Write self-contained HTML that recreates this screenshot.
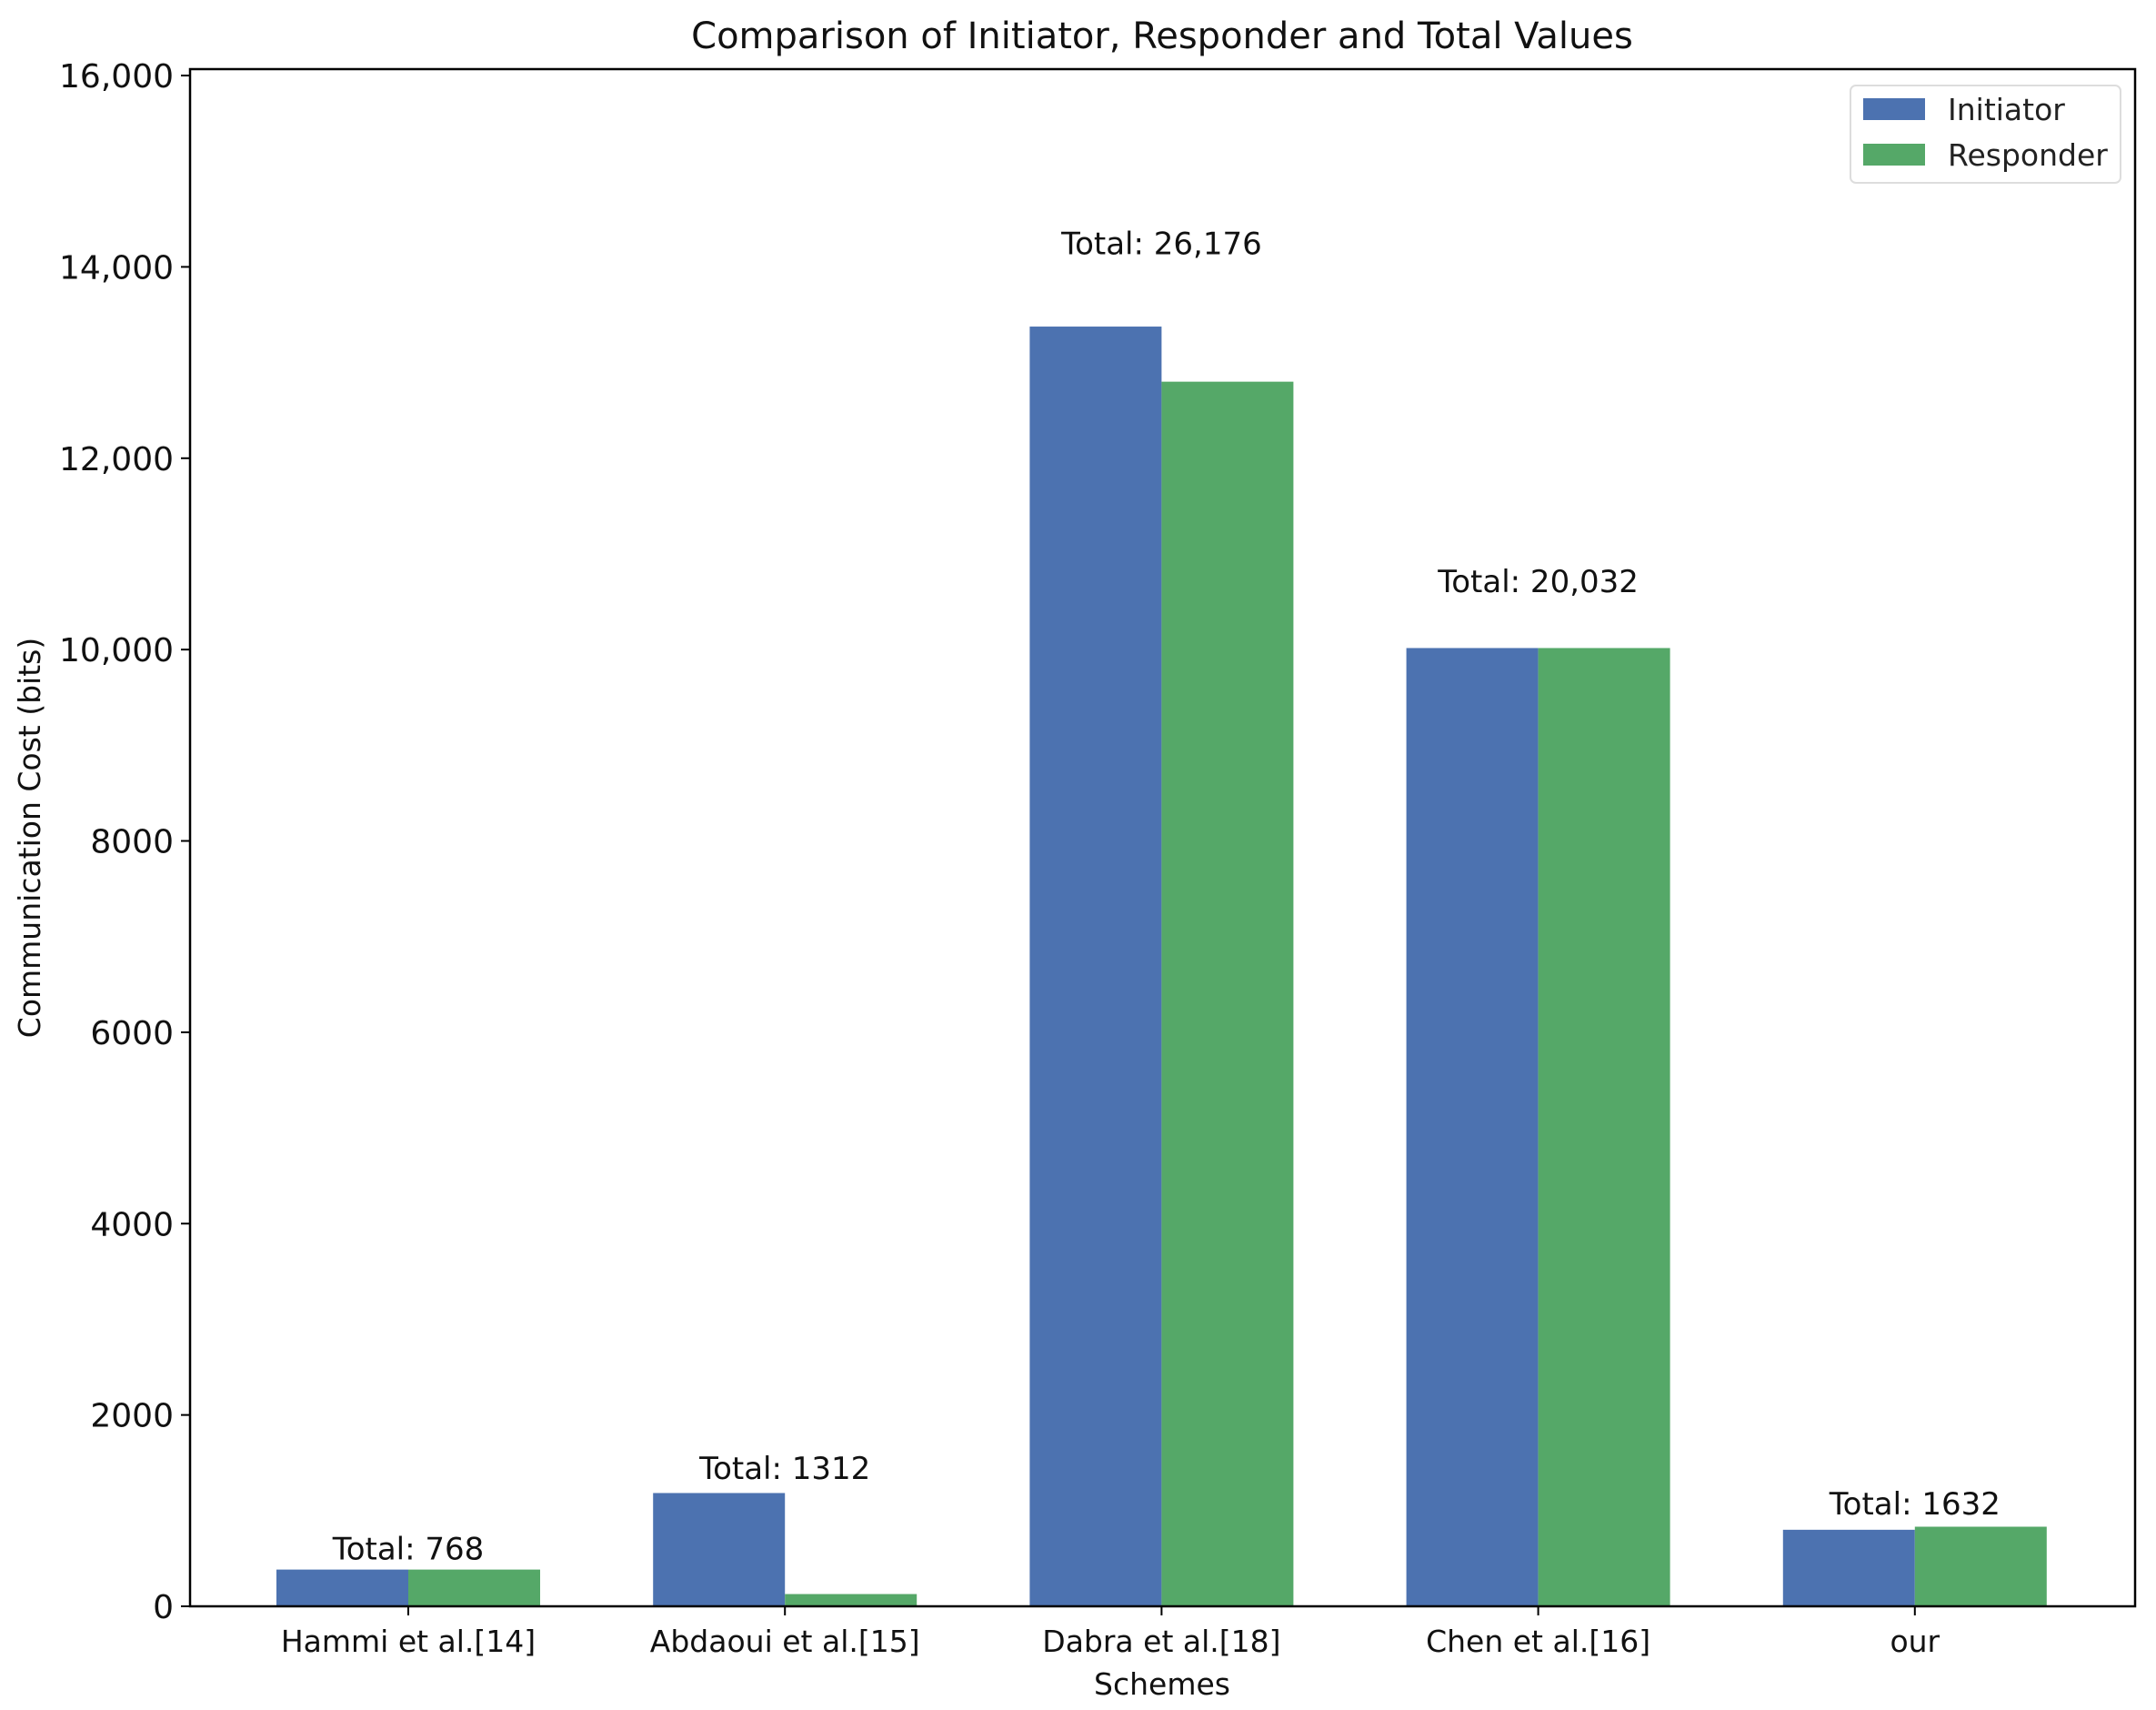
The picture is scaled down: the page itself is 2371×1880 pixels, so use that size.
<!DOCTYPE html>
<html><head><meta charset="utf-8"><style>
html,body{margin:0;padding:0;background:#fff;}
svg{display:block;font-family:"DejaVu Sans","Liberation Sans",sans-serif;}
</style></head><body>
<svg id="chart" width="2371" height="1880" viewBox="0 0 2371 1880" xmlns="http://www.w3.org/2000/svg">
<text x="1278" y="53" font-size="40" text-anchor="middle" fill="#111">Comparison of Initiator, Responder and Total Values</text>
<text transform="translate(44,921) rotate(-90)" font-size="33" text-anchor="middle" fill="#111">Communication Cost (bits)</text>
<text x="1278" y="1863" font-size="33" text-anchor="middle" fill="#111">Schemes</text>
<g id="marks"></g>
<rect x="209" y="76" width="2139" height="1690" fill="none" stroke="#000" stroke-width="2.5"/>
<g>
<rect x="2035" y="94" width="297" height="107" rx="6" fill="#fff" stroke="#ddd" stroke-width="2"/>
<rect x="2049" y="108" width="68" height="24" fill="#4c72b0"/>
<text x="2142" y="132" font-size="33" fill="#222">Initiator</text>
<rect x="2049" y="158" width="68" height="24" fill="#55a868"/>
<text x="2142" y="182" font-size="33" fill="#222">Responder</text>
</g>
</svg>
<script>
const categories = ["Hammi et al.[14]", "Abdaoui et al.[15]", "Dabra et al.[18]", "Chen et al.[16]", "our"];
const initiator = [384, 1184, 13376, 10016, 800];
const responder = [384, 128, 12800, 10016, 832];
const totalLabels = ["768", "1312", "26,176", "20,032", "1632"];
const yTicks = [0, 2000, 4000, 6000, 8000, 10000, 12000, 14000, 16000];
const yTickLabels = ["0", "2000", "4000", "6000", "8000", "10,000", "12,000", "14,000", "16,000"];

const NS = "http://www.w3.org/2000/svg";
const L = 209, R = 2348, T = 76, B = 1766;
const yMax = 16067;
function y(v){ return B - v / yMax * (B - T); }
function xc(i){ return 449 + i * 414.2; }
const bw = 145;
const g = document.getElementById("marks");
function mk(tag, attrs){ const e = document.createElementNS(NS, tag); for (const k in attrs) e.setAttribute(k, attrs[k]); g.appendChild(e); return e; }

yTicks.forEach((t, i) => {
  const tk = mk("line", {x1: L - 10, x2: L, y1: y(t), y2: y(t), stroke: "#000", "stroke-width": 2});
  
  
  const tl = mk("text", {x: L - 18, y: y(t) + 13, "font-size": 36, "text-anchor": "end", fill: "#111"});
  tl.textContent = yTickLabels[i];
  
  
});

categories.forEach((c, i) => {
  const cx = xc(i);
  const b1 = mk("rect", {x: cx - bw, y: y(initiator[i]), width: bw, height: B - y(initiator[i]), fill: "#4c72b0"});
  
  
  const b2 = mk("rect", {x: cx, y: y(responder[i]), width: bw, height: B - y(responder[i]), fill: "#55a868"});
  
  
  const mx = Math.max(initiator[i], responder[i]);
  const tl = mk("text", {x: cx, y: y(mx * 1.05) - 9, "font-size": 34, "text-anchor": "middle", fill: "#111"});
  tl.textContent = "Total: " + totalLabels[i];
  
  
  const tk = mk("line", {x1: cx, x2: cx, y1: B, y2: B + 10, stroke: "#000", "stroke-width": 2});
  
  
  const xl = mk("text", {x: cx, y: 1816, "font-size": 33, "text-anchor": "middle", fill: "#111"});
  xl.textContent = c;
  
  
});
</script>
</body></html>
